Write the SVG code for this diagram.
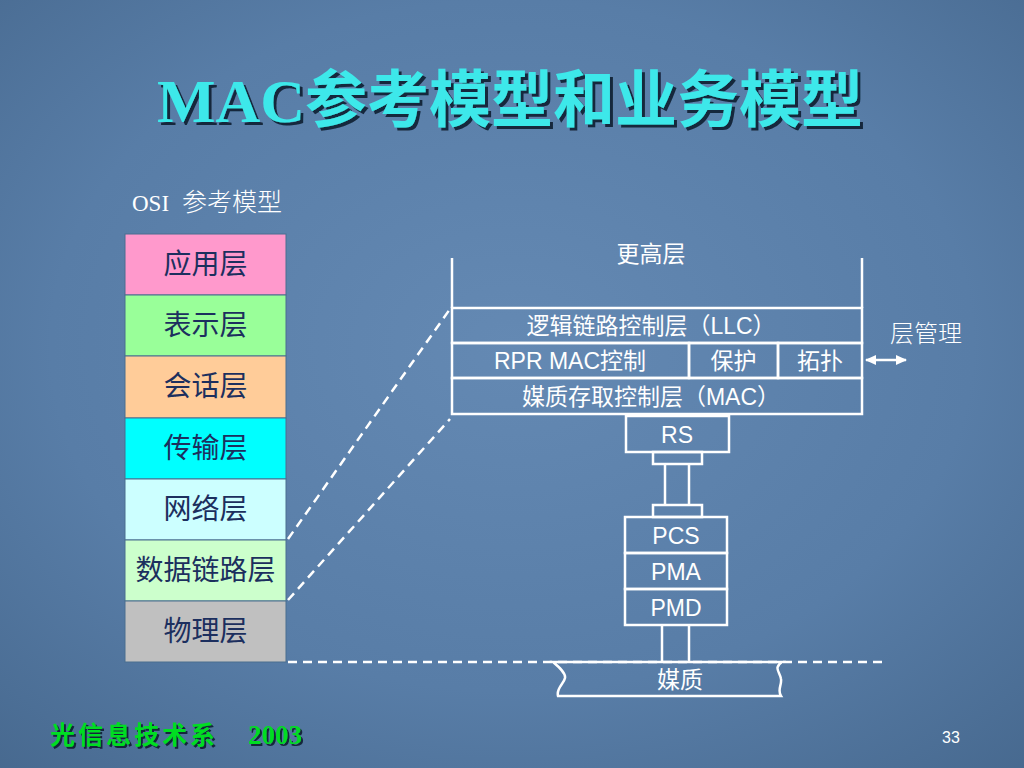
<svg xmlns="http://www.w3.org/2000/svg" width="1024" height="768" viewBox="0 0 1024 768">
<defs>
<radialGradient id="bg" cx="0.5" cy="0.45" r="0.75">
<stop offset="0" stop-color="#6489b3"/>
<stop offset="0.6" stop-color="#587da7"/>
<stop offset="1" stop-color="#47698f"/>
</radialGradient>
<filter id="shadow" x="-5%" y="-20%" width="110%" height="140%">
<feDropShadow dx="3" dy="3" stdDeviation="0.6" flood-color="#0a1a30" flood-opacity="0.9"/>
</filter>
<filter id="shadow2" x="-5%" y="-20%" width="110%" height="140%">
<feDropShadow dx="2" dy="2" stdDeviation="0.5" flood-color="#0a1a30" flood-opacity="0.9"/>
</filter>
<marker id="ah" viewBox="0 0 10 10" refX="9" refY="5" markerWidth="4.5" markerHeight="4.5" orient="auto-start-reverse">
<path d="M0,0.5 L10,5 L0,9.5 Z" fill="#ffffff"/>
</marker>
<style>
.osi{stroke:#4a6f8f;stroke-width:1}
.osit{font-family:"Liberation Sans","Noto Sans CJK SC",sans-serif;font-size:28px;fill:#1c2f5e;text-anchor:middle}
.box{fill:none;stroke:#ffffff;stroke-width:2.5}
.wt{font-family:"Liberation Sans","Noto Sans CJK SC",sans-serif;font-size:23px;fill:#ffffff;text-anchor:middle}
.dash{fill:none;stroke:#ffffff;stroke-width:2.5;stroke-dasharray:9 6}
.ln{fill:none;stroke:#ffffff;stroke-width:2.5}
</style>
</defs>
<rect x="0" y="0" width="1024" height="768" fill="url(#bg)"/>

<g id="title" filter="url(#shadow)">
<text x="157" y="122" font-size="62" fill="#3ee8ea" font-weight="bold"><tspan font-family="Liberation Serif,serif">MAC</tspan><tspan font-family="Noto Sans CJK SC,sans-serif" font-weight="bold">参考模型和业务模型</tspan></text>
</g>

<text x="132" y="211" fill="#ffffff"><tspan font-family="Liberation Serif,serif" font-size="23">OSI</tspan><tspan x="182" font-family="Noto Sans CJK SC,sans-serif" font-weight="300" font-size="25">参考模型</tspan></text>

<g id="osi-app"><rect class="osi" x="125" y="234" width="161" height="61" fill="#ff99cc"/><text class="osit" x="205.5" y="274">应用层</text></g>
<g id="osi-pres"><rect class="osi" x="125" y="295" width="161" height="61" fill="#99ff99"/><text class="osit" x="205.5" y="335">表示层</text></g>
<g id="osi-sess"><rect class="osi" x="125" y="356" width="161" height="62" fill="#ffcc99"/><text class="osit" x="205.5" y="396">会话层</text></g>
<g id="osi-trans"><rect class="osi" x="125" y="418" width="161" height="61" fill="#00ffff"/><text class="osit" x="205.5" y="458">传输层</text></g>
<g id="osi-net"><rect class="osi" x="125" y="479" width="161" height="61" fill="#ccffff"/><text class="osit" x="205.5" y="519">网络层</text></g>
<g id="osi-dl"><rect class="osi" x="125" y="540" width="161" height="61" fill="#ccffcc"/><text class="osit" x="205.5" y="580">数据链路层</text></g>
<g id="osi-phy"><rect class="osi" x="125" y="601" width="161" height="61" fill="#c0c0c0"/><text class="osit" x="205.5" y="641">物理层</text></g>

<g id="connectors">
<line class="dash" x1="288" y1="539" x2="450" y2="309"/>
<line class="dash" x1="288" y1="600" x2="450" y2="419"/>
<line class="dash" x1="288" y1="662" x2="886" y2="662"/>
<line class="ln" x1="452" y1="258" x2="452" y2="308"/>
<line class="ln" x1="862" y1="258" x2="862" y2="308"/>
<line class="ln" x1="665" y1="464" x2="665" y2="505"/>
<line class="ln" x1="689" y1="464" x2="689" y2="505"/>
<line class="ln" x1="662" y1="625" x2="662" y2="662"/>
<line class="ln" x1="689" y1="625" x2="689" y2="662"/>
<line x1="866" y1="360" x2="906" y2="360" stroke="#ffffff" stroke-width="2.5" marker-start="url(#ah)" marker-end="url(#ah)"/>
</g>

<text class="wt" x="651" y="262">更高层</text>

<g id="llc"><rect class="box" x="452" y="308" width="410" height="35"/><text class="wt" x="651" y="334">逻辑链路控制层（LLC）</text></g>
<g id="rpr"><rect class="box" x="452" y="343" width="237" height="35"/><text class="wt" x="570" y="369">RPR MAC控制</text></g>
<g id="prot"><rect class="box" x="689" y="343" width="89" height="35"/><text class="wt" x="733.5" y="369">保护</text></g>
<g id="topo"><rect class="box" x="778" y="343" width="84" height="35"/><text class="wt" x="820" y="369">拓扑</text></g>
<g id="mac"><rect class="box" x="452" y="378" width="410" height="36"/><text class="wt" x="651" y="405">媒质存取控制层（MAC）</text></g>
<g id="rs"><rect class="box" x="626" y="416" width="103" height="36"/><text class="wt" x="677" y="443">RS</text></g>
<g id="mii-top"><rect class="box" x="653" y="452" width="49" height="12"/></g>
<g id="mii-bot"><rect class="box" x="653" y="505" width="49" height="12"/></g>
<g id="pcs"><rect class="box" x="625" y="517" width="102" height="36"/><text class="wt" x="676" y="544">PCS</text></g>
<g id="pma"><rect class="box" x="625" y="553" width="102" height="36"/><text class="wt" x="676" y="580">PMA</text></g>
<g id="pmd"><rect class="box" x="625" y="589" width="102" height="36"/><text class="wt" x="676" y="616">PMD</text></g>
<g id="medium">
<path class="ln" d="M553,662 C559,667 566,673 565,678 C564,684 556,688 558,696 L781,696 C777,690 782,685 781,679 C780,672 773,668 782,662 Z"/>
<text class="wt" x="680" y="688">媒质</text>
</g>

<text x="890" y="342" font-family="Noto Sans CJK SC,sans-serif" font-size="24" font-weight="300" fill="#ffffff">层管理</text>

<g filter="url(#shadow2)">
<text x="50" y="744" font-weight="bold" fill="#00dd22"><tspan font-family="Noto Sans CJK SC,sans-serif" font-size="25" letter-spacing="3">光信息技术系</tspan><tspan x="248" font-family="Liberation Serif,serif" font-size="27">2003</tspan></text>
</g>
<text x="951" y="743" font-family="Liberation Sans,sans-serif" font-size="16" fill="#ffffff" text-anchor="middle">33</text>
</svg>
